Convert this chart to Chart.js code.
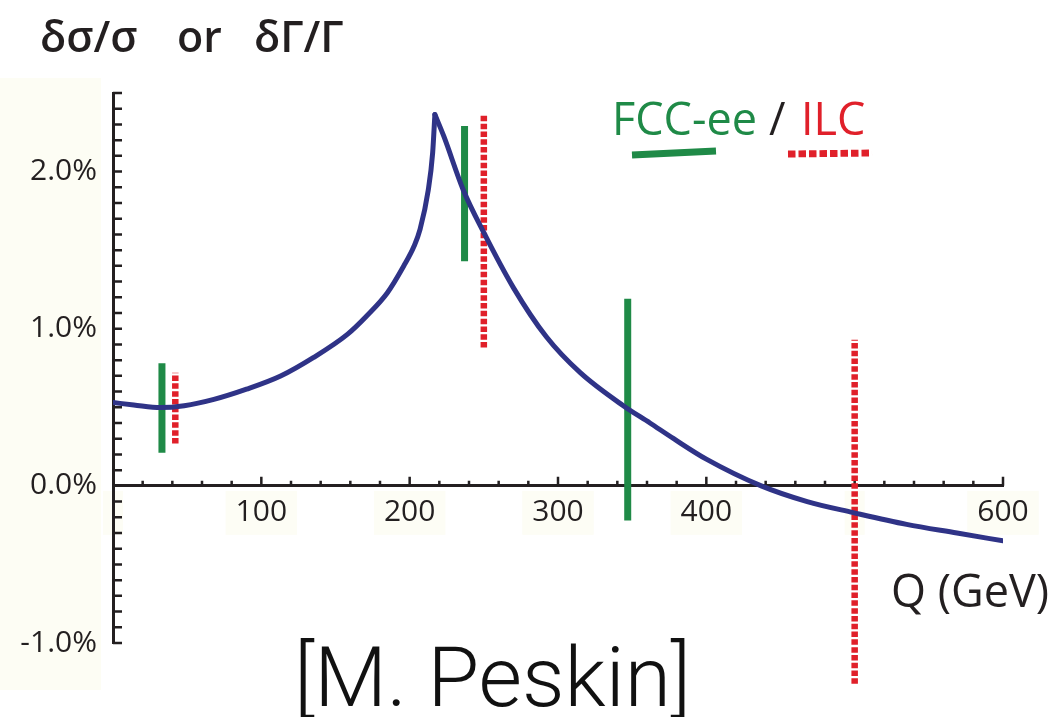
<!DOCTYPE html>
<html lang="en">
<head>
<meta charset="utf-8" />
<script src="https://cdn.jsdelivr.net/npm/chart.js@4.4.1/dist/chart.umd.min.js"></script>
<style>
  html, body { margin: 0; padding: 0; background: #fff; }
</style>
</head>
<body>
<canvas id="peskin" width="1058" height="717"></canvas>
<script>
// shift (in %) vs Q, split at the cusp so the peak stays sharp
const riseQ   = [0, 14, 32, 48, 68, 90, 113, 135, 158, 171, 185, 196, 203, 207, 212.5, 215.5, 217];
const riseVal = [0.53, 0.515, 0.498, 0.51, 0.55, 0.615, 0.699, 0.816, 0.964, 1.081, 1.229, 1.399, 1.526, 1.632, 1.88, 2.12, 2.363];
const fallQ   = [217, 223, 236, 250, 270, 292, 315, 344, 362, 378, 400, 437, 468, 499, 535, 569, 600];
const fallVal = [2.363, 2.225, 1.886, 1.611, 1.26, 0.95, 0.72, 0.51, 0.40, 0.30, 0.17, 0.0, -0.1, -0.17, -0.245, -0.30, -0.35];

// error bars
const fccQ    = [33, 237, 347];
const fccLow  = [0.21, 1.43, -0.22];
const fccHigh = [0.78, 2.29, 1.19];
const ilcQ    = [42, 250, 500];
const ilcLow  = [0.27, 0.88, -1.26];
const ilcHigh = [0.72, 2.36, 0.93];

const xTickLabels = [100, 200, 300, 400, 600];
const yTickLabels = [-1, 0, 1, 2];

const axisColor = "#231f20";
const navy = "#2f3387";
const green = "#1f8a47";
const red = "#e0202a";

function pts(qs, vals) {
  return qs.map((q, i) => ({ x: q, y: vals[i] }));
}
function bars(qs, lo, hi) {
  const out = [];
  qs.forEach((q, i) => {
    out.push({ x: q, y: lo[i] }, { x: q, y: hi[i] }, { x: q, y: null });
  });
  return out;
}

const bgStrip = {
  id: "bgStrip",
  beforeDraw(chart) {
    const ctx = chart.ctx;
    ctx.save();
    ctx.fillStyle = "#fdfdf4";
    ctx.fillRect(0, 78, 101, 612);
    ctx.restore();
  },
};

const minorTicks = {
  id: "minorTicks",
  beforeDatasetsDraw(chart) {
    const { ctx, chartArea, scales } = chart;
    const x = scales.x, y = scales.y;
    const left = chartArea.left;
    const y0 = y.getPixelForValue(0);
    ctx.save();
    ctx.strokeStyle = axisColor;
    ctx.lineWidth = 2.5;
    ctx.beginPath();
    for (let i = -10; i <= 25; i++) {
      const py = y.getPixelForValue(i / 10);
      ctx.moveTo(left, py);
      ctx.lineTo(left + 9, py);
    }
    for (let q = 20; q <= 600; q += 20) {
      const px = x.getPixelForValue(q);
      const len = q % 100 === 0 ? 9 : 5;
      ctx.moveTo(px, y0);
      ctx.lineTo(px, y0 - len);
    }
    ctx.stroke();
    ctx.restore();
  },
};

const notes = {
  id: "notes",
  afterDraw(chart) {
    const ctx = chart.ctx;
    ctx.save();
    ctx.textBaseline = "alphabetic";
    ctx.textAlign = "left";

    ctx.fillStyle = axisColor;
    ctx.font = "600 43px 'Open Sans'";
    ctx.fillText("δσ/σ", 40, 52);
    ctx.fillText("or", 177, 52);
    ctx.fillText("δΓ/Γ", 254, 52);

    ctx.font = "45px 'Open Sans'";
    ctx.fillStyle = green;
    ctx.fillText("FCC-ee", 612, 135);
    ctx.fillStyle = axisColor;
    ctx.fillText("/", 769, 135);
    ctx.fillStyle = red;
    ctx.fillText("ILC", 801, 135);

    ctx.lineCap = "butt";
    ctx.lineWidth = 7;
    ctx.strokeStyle = green;
    ctx.beginPath();
    ctx.moveTo(632, 155);
    ctx.lineTo(716, 151);
    ctx.stroke();
    ctx.strokeStyle = red;
    ctx.setLineDash([7.5, 3]);
    ctx.beginPath();
    ctx.moveTo(788, 154);
    ctx.lineTo(872, 153);
    ctx.stroke();
    ctx.setLineDash([]);

    ctx.fillStyle = axisColor;
    ctx.font = "45px 'Open Sans'";
    ctx.fillText("Q (GeV)", 891, 607);

    ctx.fillStyle = "#111";
    ctx.font = "300 84px Roboto";
    ctx.fillText("[M. Peskin]", 294, 706);
    ctx.restore();
  },
};

const tickFont = { family: "'Open Sans'", size: 30 };

new Chart(document.getElementById("peskin"), {
  type: "line",
  data: {
    datasets: [
      { data: pts(riseQ, riseVal), borderColor: navy, borderWidth: 5, cubicInterpolationMode: "monotone", borderCapStyle: "round" },
      { data: pts(fallQ, fallVal), borderColor: navy, borderWidth: 5, cubicInterpolationMode: "monotone", borderCapStyle: "round" },
      { data: bars(fccQ, fccLow, fccHigh), borderColor: green, borderWidth: 7, spanGaps: false, clip: false },
      { data: bars(ilcQ, ilcLow, ilcHigh), borderColor: red, borderWidth: 6.5, borderDash: [5.5, 2.3], borderCapStyle: "butt", spanGaps: false, clip: false },
    ],
  },
  options: {
    responsive: false,
    animation: false,
    layout: { padding: { left: 0, right: 55, top: 93, bottom: 74 } },
    elements: { point: { radius: 0, hoverRadius: 0 } },
    plugins: { legend: { display: false }, tooltip: { enabled: false } },
    scales: {
      x: {
        type: "linear",
        position: { y: 0 },
        min: 0,
        max: 600,
        grid: { display: false, drawTicks: false },
        border: { display: true, color: axisColor, width: 3 },
        ticks: {
          stepSize: 100,
          padding: 9,
          autoSkip: false,
          maxRotation: 0,
          color: axisColor,
          font: tickFont,
          showLabelBackdrop: true,
          backdropColor: "#fdfdf5",
          backdropPadding: { x: 10, y: 4 },
          callback: (v) => (xTickLabels.includes(v) ? String(v) : ""),
        },
      },
      y: {
        type: "linear",
        min: -1,
        max: 2.5,
        afterFit: (s) => { s.width = 113; },
        grid: { display: false, drawTicks: false },
        border: { display: true, color: axisColor, width: 3 },
        ticks: {
          stepSize: 1,
          padding: 16,
          color: axisColor,
          font: tickFont,
          callback: (v) => (yTickLabels.includes(v) ? v.toFixed(1) + "%" : ""),
        },
      },
    },
  },
  plugins: [bgStrip, minorTicks, notes],
});
</script>
</body>
</html>
